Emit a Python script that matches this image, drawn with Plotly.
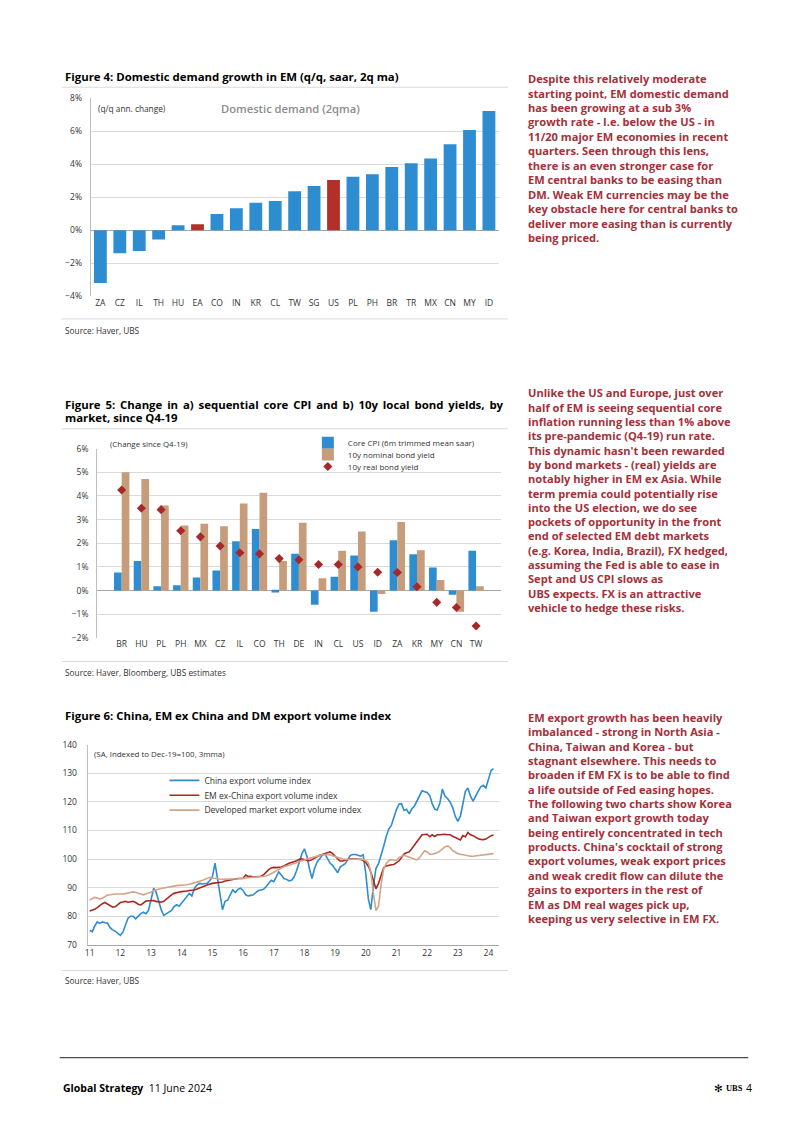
import plotly.graph_objects as go
import pandas as pd

W, H = 802, 1134


def px(x):
    return x / W


def py(y):
    return 1 - y / H


# ---------------- Figure 4 data ----------------
dd_countries = ["ZA", "CZ", "IL", "TH", "HU", "EA", "CO", "IN", "KR", "CL", "TW",
                "SG", "US", "PL", "PH", "BR", "TR", "MX", "CN", "MY", "ID"]
dd_growth = [-3.2, -1.4, -1.26, -0.56, 0.3, 0.36, 0.98, 1.32, 1.66, 1.76, 2.36,
             2.68, 3.04, 3.24, 3.38, 3.82, 4.06, 4.34, 5.2, 6.06, 7.22]
dd_highlight = ["EA", "US"]

# ---------------- Figure 5 data ----------------
cpi_markets = ["BR", "HU", "PL", "PH", "MX", "CZ", "IL", "CO", "TH", "DE", "IN",
               "CL", "US", "ID", "ZA", "KR", "MY", "CN", "TW"]
core_cpi = [0.76, 1.25, 0.18, 0.22, 0.55, 0.85, 2.08, 2.6, -0.08, 1.55, -0.6,
            0.58, 1.48, -0.9, 2.13, 1.53, 0.97, -0.18, 1.68]
nominal_yield = [5.0, 4.72, 3.6, 2.75, 2.82, 2.72, 3.68, 4.13, 1.25, 2.87, 0.52,
                 1.68, 2.5, -0.15, 2.9, 1.7, 0.45, -0.9, 0.18]
real_yield = [4.25, 3.48, 3.42, 2.53, 2.27, 1.88, 1.6, 1.55, 1.35, 1.3, 1.1,
              1.1, 1.0, 0.77, 0.76, 0.16, -0.5, -0.72, -1.5]

# ---------------- Figure 6 data ----------------
export_months = pd.date_range("2011-01-01", "2024-03-01", freq="MS")
china_export = [
    75.0, 74.6, 76.5, 78.0, 77.5, 78.0, 77.7, 77.6, 76.0, 75.2, 74.8, 74.2,
    73.3, 74.5, 76.6, 79.3, 80.0, 80.0, 79.1, 80.2, 80.9, 81.4, 80.9, 82.0,
    85.7, 89.8, 88.5, 85.5, 82.3, 80.3, 80.8, 81.3, 82.0, 83.4, 84.0, 83.5,
    84.6, 85.8, 86.9, 88.0, 87.1, 89.8, 90.9, 91.5, 91.3, 91.4, 91.5, 92.5,
    93.8, 98.6, 93.8, 88.0, 82.3, 85.2, 85.6, 87.5, 89.2, 88.3, 89.4, 89.8,
    89.0, 87.5, 87.1, 87.3, 87.5, 88.3, 89.0, 89.2, 89.4, 90.3, 91.5, 92.6,
    92.1, 94.0, 95.5, 94.4, 93.2, 92.9, 92.4, 92.6, 93.8, 96.1, 99.3, 101.8,
    103.6, 100.7, 96.7, 93.2, 96.7, 99.0, 100.1, 101.3, 101.8, 100.1, 98.6, 97.8,
    96.7, 95.2, 97.2, 97.8, 98.4, 99.8, 101.3, 101.6, 101.6, 101.3, 101.0, 101.5,
    95.0, 86.0, 82.3, 90.5, 96.7, 98.4, 101.0, 104.5, 108.0, 110.5, 111.8, 114.5,
    117.4, 119.3, 119.4, 117.0, 117.4, 115.8, 117.5, 118.5, 120.5, 122.0, 123.9, 123.6,
    123.3, 122.2, 119.5, 117.5, 117.2, 119.5, 124.5, 122.0, 121.2, 120.0, 118.0, 115.0,
    113.2, 115.0, 119.8, 123.7, 124.9, 122.0, 120.3, 121.8, 123.8, 125.3, 125.8, 124.9,
    127.8, 131.0, 131.6,
]
em_ex_china_export = [
    81.8, 82.0, 82.4, 83.0, 83.8, 84.4, 84.8, 84.3, 83.5, 83.2, 83.3, 84.0,
    84.8, 85.0, 85.2, 84.9, 85.1, 85.2, 84.8, 84.2, 84.0, 84.8, 85.3, 85.4,
    85.5, 85.5, 85.2, 85.0, 84.9, 85.2, 86.0, 86.8, 87.5, 88.0, 88.3, 88.5,
    88.6, 88.6, 88.8, 89.0, 89.0, 89.2, 89.5, 89.9, 90.3, 90.6, 91.0, 91.3,
    91.5, 91.6, 91.7, 91.8, 92.0, 92.3, 92.5, 92.7, 92.9, 93.1, 93.2, 93.2,
    93.2, 94.4, 93.9, 94.0, 93.7, 93.8, 93.9, 94.0, 94.5, 95.5, 96.3, 96.9,
    97.1, 97.0, 97.0, 97.2, 97.6, 98.2, 98.5, 98.8, 99.0, 99.4, 99.9, 100.1,
    99.8, 99.5, 99.4, 99.8, 100.3, 100.9, 101.3, 101.6, 101.8, 102.2, 102.5, 102.0,
    101.0, 100.0, 99.3, 99.3, 99.6, 99.9, 100.1, 100.1, 100.0, 99.9, 99.9, 99.5,
    98.8, 97.5, 95.5, 92.5, 89.6, 91.5, 94.0, 97.0, 97.6, 97.9, 98.0, 98.1,
    98.8, 99.4, 100.5, 101.8, 102.2, 102.5, 103.6, 104.8, 106.3, 107.6, 108.5, 108.6,
    108.7, 107.8, 108.5, 107.9, 108.5, 108.5, 108.6, 108.7, 108.5, 108.5, 108.0, 107.6,
    107.4, 106.7, 108.2, 107.8, 109.3, 108.5, 108.2, 107.6, 107.1, 106.9, 106.8, 107.0,
    107.6, 108.2, 108.4,
]
dm_export = [
    85.7, 86.3, 86.6, 86.4, 86.0, 86.3, 87.0, 87.4, 87.5, 87.7, 87.8, 87.8,
    87.7, 87.8, 87.9, 88.0, 88.3, 88.5, 88.4, 88.0, 87.7, 87.5, 87.9, 88.2,
    88.4, 89.0, 89.3, 89.5, 89.7, 89.9, 90.1, 90.3, 90.4, 90.6, 90.7, 90.8,
    90.8, 90.9, 91.0, 91.2, 91.4, 91.6, 91.8, 92.2, 92.5, 92.9, 93.4, 93.6,
    93.4, 93.2, 93.1, 93.0, 92.9, 92.9, 92.9, 92.9, 93.0, 93.0, 93.1, 93.2,
    93.3, 93.4, 93.5, 93.6, 93.8, 93.8, 93.8, 93.8, 93.9, 94.1, 94.4, 94.9,
    95.4, 95.9, 96.4, 96.9, 97.3, 97.6, 97.9, 98.3, 98.6, 98.9, 99.3, 99.6,
    99.9, 100.1, 100.3, 100.5, 100.8, 101.1, 101.3, 101.5, 101.6, 101.6, 101.5, 101.2,
    100.9, 100.5, 100.2, 100.0, 99.9, 99.9, 100.0, 100.1, 100.1, 100.0, 100.0, 99.8,
    99.5, 98.6, 95.5, 88.0, 82.0, 83.5, 91.0, 96.5, 98.5, 99.4, 99.8, 99.6,
    99.6, 100.6, 101.0, 101.3, 101.0, 100.7, 100.5, 100.2, 99.7, 100.4, 101.8, 102.9,
    102.5, 101.7, 101.7, 101.9, 102.2, 102.8, 103.5, 104.3, 104.6, 104.0, 103.0, 102.4,
    101.9, 101.7, 101.5, 101.2, 101.1, 101.0, 101.0, 101.1, 101.3, 101.5, 101.6, 101.7,
    101.8, 101.8, 101.9,
]

# ---------------- Commentary text ----------------
text_block_1 = [
    "Despite this relatively moderate",
    "starting point, EM domestic demand",
    "has been growing at a sub 3%",
    "growth rate - I.e. below the US - in",
    "11/20 major EM economies in recent",
    "quarters. Seen through this lens,",
    "there is an even stronger case for",
    "EM central banks to be easing than",
    "DM. Weak EM currencies may be the",
    "key obstacle here for central banks to",
    "deliver more easing than is currently",
    "being priced.",
]
text_block_2 = [
    "Unlike the US and Europe, just over",
    "half of EM is seeing sequential core",
    "inflation running less than 1% above",
    "its pre-pandemic (Q4-19) run rate.",
    "This dynamic hasn't been rewarded",
    "by bond markets - (real) yields are",
    "notably higher in EM ex Asia. While",
    "term premia could potentially rise",
    "into the US election, we do see",
    "pockets of opportunity in the front",
    "end of selected EM debt markets",
    "(e.g. Korea, India, Brazil), FX hedged,",
    "assuming the Fed is able to ease in",
    "Sept and US CPI slows as",
    "UBS expects. FX is an attractive",
    "vehicle to hedge these risks.",
]
text_block_3 = [
    "EM export growth has been heavily",
    "imbalanced - strong in North Asia -",
    "China, Taiwan and Korea - but",
    "stagnant elsewhere. This needs to",
    "broaden if EM FX is to be able to find",
    "a life outside of Fed easing hopes.",
    "The following two charts show Korea",
    "and Taiwan export growth today",
    "being entirely concentrated in tech",
    "products. China's cocktail of strong",
    "export volumes, weak export prices",
    "and weak credit flow can dilute the",
    "gains to exporters in the rest of",
    "EM as DM real wages pick up,",
    "keeping us very selective in EM FX.",
]

# ---------------- Styling ----------------
FONT = "Open Sans"
BLUE = "#2E8DD0"
RED_BAR = "#B3302A"
TAN = "#C69C7A"
DIAMOND = "#A8282A"
LINE_RED = "#A82820"
LINE_TAN = "#D3A487"
TEXT_RED = "#A5303A"
GRID = "#DADADA"
AXIS = "#BFBFBF"
TICK_COLOR = "#333333"

fig = go.Figure()

fig.add_trace(go.Bar(
    x=dd_countries, y=dd_growth,
    marker=dict(color=[RED_BAR if c in dd_highlight else BLUE for c in dd_countries], line=dict(width=0)),
    width=0.66, showlegend=False, xaxis="x", yaxis="y", name="Domestic demand (2qma)",
))

fig.add_trace(go.Bar(
    x=cpi_markets, y=core_cpi, name="Core CPI (6m trimmed mean saar)",
    marker=dict(color=BLUE, line=dict(width=0)), width=0.39, offset=-0.39,
    xaxis="x2", yaxis="y2", legend="legend",
))
fig.add_trace(go.Bar(
    x=cpi_markets, y=nominal_yield, name="10y nominal bond yield",
    marker=dict(color=TAN, line=dict(width=0)), width=0.39, offset=0.0,
    xaxis="x2", yaxis="y2", legend="legend2",
))
fig.add_trace(go.Scatter(
    x=cpi_markets, y=real_yield, name="10y real bond yield", mode="markers",
    marker=dict(symbol="diamond", color=DIAMOND, size=7),
    xaxis="x2", yaxis="y2", legend="legend3",
))

fig.add_trace(go.Scatter(
    x=export_months, y=china_export, name="China export volume index", mode="lines",
    line=dict(color=BLUE, width=1.6), xaxis="x3", yaxis="y3", legend="legend4",
))
fig.add_trace(go.Scatter(
    x=export_months, y=em_ex_china_export, name="EM ex-China export volume index", mode="lines",
    line=dict(color=LINE_RED, width=1.6), xaxis="x3", yaxis="y3", legend="legend5",
))
fig.add_trace(go.Scatter(
    x=export_months, y=dm_export, name="Developed market export volume index", mode="lines",
    line=dict(color=LINE_TAN, width=1.6), xaxis="x3", yaxis="y3", legend="legend6",
))

tickfont = dict(family=FONT, size=8.5, color=TICK_COLOR)

common_y = dict(showline=True, linecolor=AXIS, linewidth=1, gridcolor=GRID, gridwidth=1,
                zeroline=True, zerolinecolor="#A6A6A6", zerolinewidth=1,
                tickfont=tickfont, ticks="", ticklabelstandoff=6)
common_x_cat = dict(type="category", showline=False, showgrid=False, ticks="",
                    tickfont=tickfont, zeroline=False)

annotations = []


def add_text(x, y, text, size=8.5, color=TICK_COLOR, weight=None, xanchor="left", yanchor="middle", family=FONT):
    f = dict(family=family, size=size, color=color)
    if weight is not None:
        f["weight"] = weight
    annotations.append(dict(x=px(x), y=py(y), xref="paper", yref="paper", text=text, showarrow=False,
                            xanchor=xanchor, yanchor=yanchor, align="left", font=f))


TITLE_SIZE = 11.4
fig5_title_1 = "Figure 5: Change in a) sequential core CPI and b) 10y local bond yields, by"

add_text(60, 71, "Figure 4: Domestic demand growth in EM (q/q, saar, 2q ma)", size=TITLE_SIZE, color="#000000", weight=700)
add_text(60, 402, " \u2009".join(fig5_title_1.split(" ")), size=TITLE_SIZE, color="#000000", weight=700)
add_text(60, 416, "market, since Q4-19", size=TITLE_SIZE, color="#000000", weight=700)
add_text(60, 716, "Figure 6: China, EM ex China and DM export volume index", size=TITLE_SIZE, color="#000000", weight=700)

add_text(60, 328, "Source: Haver, UBS", size=8.3, color="#333333")
add_text(60, 673, "Source: Haver, Bloomberg, UBS estimates", size=8.3, color="#333333")
add_text(60, 984, "Source: Haver, UBS", size=8.3, color="#333333")

add_text(93, 104, "(q/q ann. change)", size=8.3, color="#333333")
add_text(217, 104, "Domestic demand (2qma)", size=11.2, color="#8C8C8C", weight=600)
add_text(105, 442, "(Change since Q4-19)", size=7.9, color="#333333")
add_text(89, 755, "(SA, Indexed to Dec-19=100, 3mma)", size=7.9, color="#333333")

for block, y0, step in ((text_block_1, 73.3, 14.6), (text_block_2, 390.7, 14.44), (text_block_3, 718.3, 14.5)):
    for i, line in enumerate(block):
        add_text(525, y0 + i * step, line, size=11.1, color=TEXT_RED, weight=700)

add_text(58, 1093, "<b>Global Strategy</b>  11 June 2024", size=10.5, color="#000000")
add_text(754, 1093, "4", size=10.5, color="#000000", xanchor="right")
add_text(745, 1093, "<b>UBS</b>", size=8.4, color="#000000", xanchor="right", family="Liberation Serif")
add_text(718, 1093, "✻", size=10.5, color="#000000", xanchor="center", family="DejaVu Sans")

shapes = []


def hline(x0, x1, y, color="#D9D9D9", width=1):
    shapes.append(dict(type="line", xref="paper", yref="paper", x0=px(x0), x1=px(x1), y0=py(y), y1=py(y),
                       line=dict(color=color, width=width)))


hline(59, 507, 82)
hline(59, 507, 316)
hline(59, 507, 427)
hline(59, 507, 662)
hline(59, 507, 974)
hline(57, 748, 1062, color="#4D4D4D", width=1.3)


def legend_at(x, y, size):
    return dict(x=px(x), y=py(y), xanchor="left", yanchor="middle", bgcolor="rgba(0,0,0,0)",
                font=dict(family=FONT, size=size, color=TICK_COLOR), tracegroupgap=0, itemwidth=30,
                borderwidth=0)


fig.update_layout(
    width=W, height=H,
    margin=dict(l=0, r=0, t=0, b=0),
    paper_bgcolor="white", plot_bgcolor="white",
    font=dict(family=FONT, size=9, color=TICK_COLOR),
    barmode="overlay",
    annotations=annotations,
    shapes=shapes,
    xaxis=dict(domain=[px(88), px(497.5)], anchor="y", **common_x_cat),
    yaxis=dict(domain=[py(293), py(93)], anchor="x", range=[-4, 8], dtick=2, ticksuffix="%", **common_y),
    xaxis2=dict(domain=[px(94.5), px(499.5)], anchor="y2", **common_x_cat),
    yaxis2=dict(domain=[py(638), py(447)], anchor="x2", range=[-2, 6], dtick=1, ticksuffix="%", **common_y),
    xaxis3=dict(domain=[px(85), px(497.5)], anchor="y3", type="date",
                range=["2010-12-08", "2024-05-01"], tick0="2011-01-01", dtick="M12", tickformat="%y",
                showline=True, linecolor="#A6A6A6", linewidth=1, showgrid=False, ticks="",
                tickfont=tickfont, zeroline=False),
    yaxis3=dict(domain=[py(948), py(746)], anchor="x3", range=[70, 140], dtick=10,
                showline=True, linecolor=AXIS, gridcolor=GRID, zeroline=False,
                tickfont=tickfont, ticks="", ticklabelstandoff=8),
    legend=legend_at(306, 441, 8),
    legend2=legend_at(306, 453, 8),
    legend3=legend_at(306, 465, 8),
    legend4=legend_at(162, 782, 8.5),
    legend5=legend_at(162, 797, 8.5),
    legend6=legend_at(162, 812, 8.5),
)

fig.write_html("out.html")
